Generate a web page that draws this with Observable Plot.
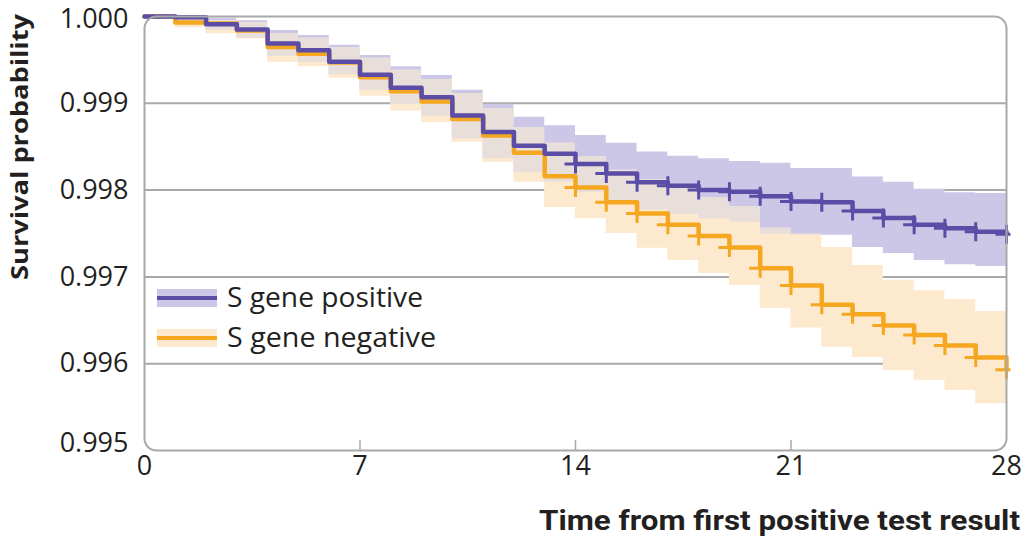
<!DOCTYPE html>
<html>
<head>
<meta charset="utf-8">
<script src="https://cdn.jsdelivr.net/npm/d3@7"></script>
<script src="https://cdn.jsdelivr.net/npm/@observablehq/plot@0.6"></script>
<style>
  html, body { margin: 0; padding: 0; background: #fff; }
  #chart { position: relative; width: 1024px; height: 539px; overflow: hidden; }
</style>
</head>
<body>
<div id="chart"></div>
<script>
// ---- Data ----
const days = [0,1,2,3,4,5,6,7,8,9,10,11,12,13,14,15,16,17,18,19,20,21,22,23,24,25,26,27,28];

const posSurvival = [1.00000,0.99999,0.99991,0.99985,0.99969,0.99961,0.99948,0.99933,0.99918,0.99907,
  0.99886,0.99867,0.99851,0.99842,0.99830,0.99819,0.99809,0.99805,0.99800,0.99798,
  0.99793,0.99787,0.99786,0.99776,0.99768,0.99760,0.99756,0.99752,0.99749];
const negSurvival = [1.00000,0.99993,0.99992,0.99984,0.99965,0.99957,0.99947,0.99930,0.99914,0.99902,
  0.99882,0.99863,0.99843,0.99816,0.99803,0.99786,0.99773,0.99760,0.99747,0.99734,
  0.99710,0.99690,0.99668,0.99657,0.99644,0.99633,0.99621,0.99607,0.99593];

// 95% CI bands for intervals starting on days 0..27
const posUpper = [1.00000,1.00000,0.99998,0.99995,0.99984,0.99978,0.99967,0.99955,0.99942,0.99932,
  0.99915,0.99899,0.99884,0.99874,0.99863,0.99854,0.99844,0.99839,0.99836,0.99833,
  0.99831,0.99825,0.99825,0.99815,0.99809,0.99801,0.99797,0.99796];
const posLower = [1.00000,0.99991,0.99984,0.99975,0.99954,0.99947,0.99933,0.99915,0.99899,0.99885,
  0.99859,0.99836,0.99820,0.99809,0.99797,0.99786,0.99777,0.99772,0.99767,0.99763,
  0.99749,0.99748,0.99748,0.99734,0.99727,0.99719,0.99714,0.99712];
const negUpper = [1.00000,0.99998,0.99995,0.99993,0.99980,0.99975,0.99964,0.99952,0.99938,0.99927,
  0.99911,0.99894,0.99872,0.99854,0.99838,0.99823,0.99812,0.99802,0.99791,0.99781,
  0.99756,0.99749,0.99734,0.99713,0.99696,0.99684,0.99674,0.99660];
const negLower = [1.00000,0.99987,0.99980,0.99974,0.99947,0.99942,0.99929,0.99908,0.99891,0.99878,
  0.99855,0.99832,0.99809,0.99780,0.99767,0.99750,0.99733,0.99719,0.99704,0.99690,
  0.99664,0.99641,0.99619,0.99607,0.99592,0.99581,0.99569,0.99554];

const censorDays = [14,15,16,17,18,19,20,21,22,23,24,25,26,27,28];

const seriesNames = ["S gene positive", "S gene negative"];
const xTicks = [0, 7, 14, 21, 28];
const yTicks = [0.995, 0.996, 0.997, 0.998, 0.999, 1.000];

const purple = "#5b4ca6", orange = "#f5a71f";
const lavender = "#ccc7e7", pale = "#fde9cd", tan = "#e9dfda";
const gridGray = "#a9a9a9";
const ink = "#231f20";

// ---- Build tables ----
const lineRows = (surv) => days.map((d, i) => ({day: d, s: surv[i]}));
const bandRows = (upper, lower) => {
  const rows = upper.map((u, i) => ({day: days[i], hi: u, lo: lower[i]}));
  rows.push({day: days[days.length - 1], hi: upper[upper.length - 1], lo: lower[lower.length - 1]});
  return rows;
};
const posBand = bandRows(posUpper, posLower);
const negBand = bandRows(negUpper, negLower);
const overlapBand = posBand.map((p, i) => {
  const n = negBand[i];
  const hi = Math.min(p.hi, n.hi), lo = Math.max(p.lo, n.lo);
  return {day: p.day, hi: Math.max(hi, lo), lo};
});
const censorRows = (surv) => censorDays.map(d => ({day: d, s: surv[days.indexOf(d)]}));

// Censoring cross: vertical stroke, horizontal stroke extending mostly to the left
const crossSymbol = {
  draw(ctx) {
    ctx.moveTo(0, -9.5); ctx.lineTo(0, 9.5);
    ctx.moveTo(-11, 0); ctx.lineTo(4, 0);
  }
};

const chart = Plot.plot({
  width: 1024,
  height: 539,
  marginLeft: 144,
  marginRight: 18,
  marginTop: 16,
  marginBottom: 89,
  style: {fontFamily: "'Open Sans', sans-serif", fontSize: "27px", color: ink, background: "#fff", overflow: "visible"},
  x: {domain: [0, 28], label: null},
  y: {domain: [0.995, 1.0], label: null},
  marks: [
    Plot.ruleY(yTicks.filter(t => t > 0.995 && t < 1), {stroke: gridGray, strokeWidth: 2}),
    Plot.areaY(posBand, {x: "day", y1: "lo", y2: "hi", curve: "step-after", fill: lavender}),
    Plot.areaY(negBand, {x: "day", y1: "lo", y2: "hi", curve: "step-after", fill: pale}),
    Plot.areaY(overlapBand, {x: "day", y1: "lo", y2: "hi", curve: "step-after", fill: tan}),
    Plot.line(lineRows(negSurvival), {x: "day", y: "s", curve: "step-after", stroke: orange, strokeWidth: 4.5}),
    Plot.line(lineRows(posSurvival), {x: "day", y: "s", curve: "step-after", stroke: purple, strokeWidth: 4.5}),
    Plot.dot(censorRows(negSurvival), {x: "day", y: "s", symbol: crossSymbol, fill: "none", stroke: orange, strokeWidth: 3, r: 8}),
    Plot.dot(censorRows(posSurvival), {x: "day", y: "s", symbol: crossSymbol, fill: "none", stroke: purple, strokeWidth: 3, r: 8}),
    Plot.frame({stroke: gridGray, strokeWidth: 2, rx: 12}),
    Plot.axisY({ticks: yTicks, tickSize: 0, tickPadding: 16, tickFormat: d3.format(".3f"), label: null, fontSize: 27}),
    Plot.axisX({ticks: xTicks, tickSize: 0, tickPadding: 5, label: null, fontSize: 27}),
    Plot.tickX(xTicks.filter(t => t > 0 && t < 28), {stroke: gridGray, strokeWidth: 1.5, insetTop: 424})
  ]
});

document.getElementById("chart").appendChild(chart);

const svg = d3.select(chart);
svg.style("font-weight", 400);

// nudge the end y tick labels, as in the reference
function nudge(label, dy) {
  svg.selectAll("g[aria-label='y-axis tick label'] text")
    .filter(function() { return this.textContent === label; })
    .attr("transform", function() {
      const t = d3.select(this).attr("transform") || "";
      return t + ` translate(0,${dy})`;
    });
}
nudge("0.995", -7);
nudge("1.000", 3);

// Axis titles
svg.append("text")
  .attr("transform", "translate(28,147) rotate(-90)")
  .attr("text-anchor", "middle")
  .attr("font-family", "'Open Sans', sans-serif")
  .attr("font-weight", 700)
  .attr("font-size", 24)
  .attr("fill", ink)
  .attr("textLength", 266)
  .attr("lengthAdjust", "spacingAndGlyphs")
  .text("Survival probability");

svg.append("text")
  .attr("x", 1020).attr("y", 530)
  .attr("text-anchor", "end")
  .attr("font-family", "Roboto, 'Open Sans', sans-serif")
  .attr("font-weight", 700)
  .attr("font-size", 27)
  .attr("fill", ink)
  .attr("textLength", 481)
  .attr("lengthAdjust", "spacingAndGlyphs")
  .text("Time from first positive test result");

// Legend (inside the plot area)
const legend = svg.append("g").attr("font-family", "'Open Sans', sans-serif").attr("text-anchor", "start");
const legendItems = [
  {name: seriesNames[0], line: purple, band: lavender, y: 298, len: 196},
  {name: seriesNames[1], line: orange, band: pale, y: 338, len: 209}
];
legendItems.forEach(it => {
  legend.append("rect").attr("x", 157).attr("y", it.y - 9).attr("width", 60).attr("height", 18).attr("fill", it.band);
  legend.append("line").attr("x1", 157).attr("x2", 217).attr("y1", it.y).attr("y2", it.y)
    .attr("stroke", it.line).attr("stroke-width", 4);
  legend.append("text").attr("x", 227).attr("y", it.y + 9)
    .attr("text-anchor", "start")
    .attr("font-size", 27).attr("fill", ink)
    .attr("textLength", it.len).attr("lengthAdjust", "spacingAndGlyphs")
    .text(it.name);
});
</script>
</body>
</html>
